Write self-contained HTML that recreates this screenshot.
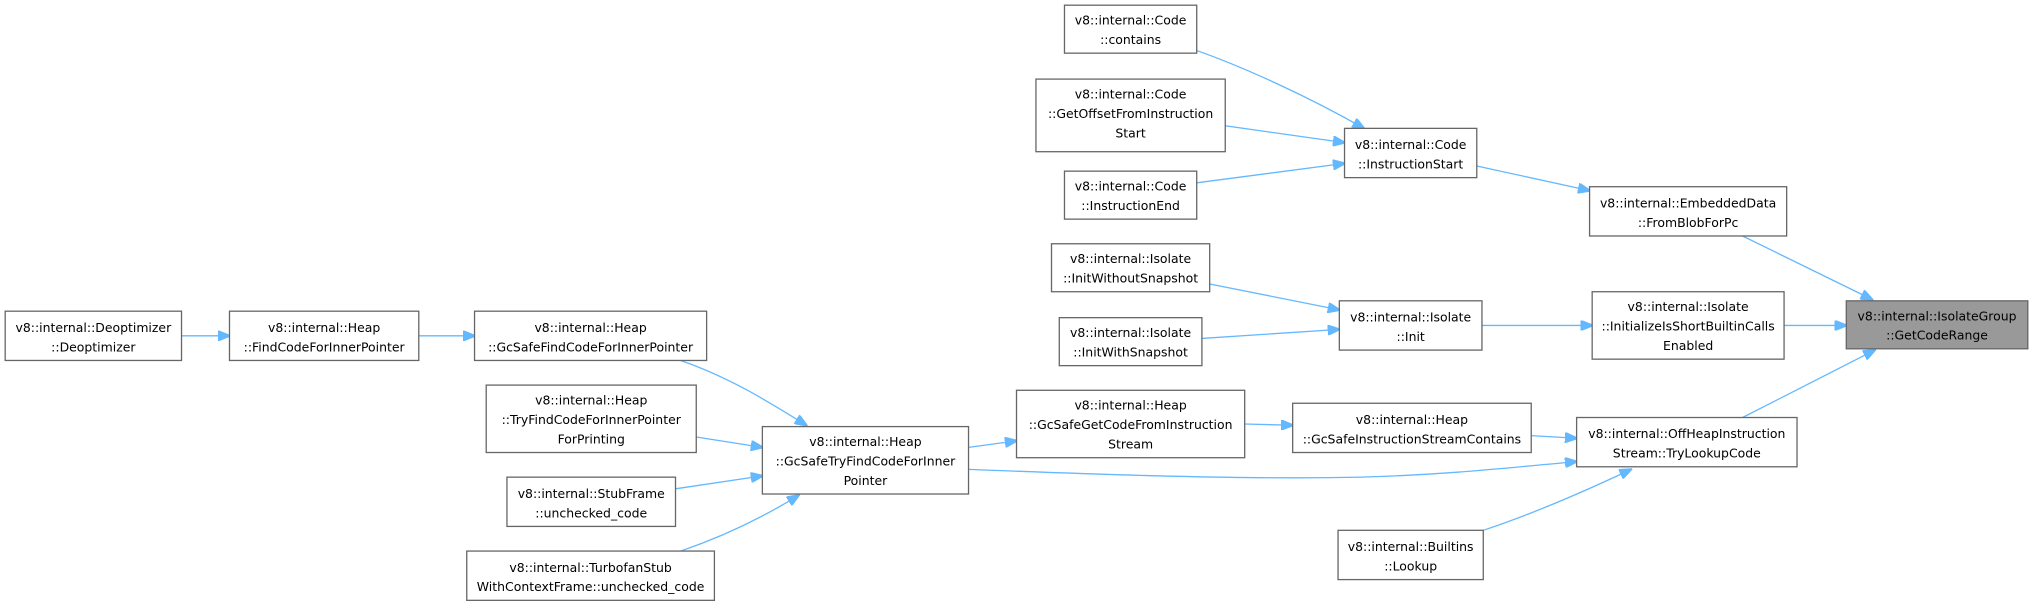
<!DOCTYPE html>
<html><head><meta charset="utf-8"><style>
html,body{margin:0;padding:0;background:#fff;}
svg{display:block;}
text{font-family:"DejaVu Sans","Liberation Sans",sans-serif;font-size:9.6px;fill:#000;text-anchor:middle;}
rect{fill:#fff;stroke:#666;stroke-width:1;}
path{fill:none;stroke:#63b8ff;stroke-width:1;}
</style></head><body>
<svg width="2033" height="605" viewBox="0 0 1568 466.6" preserveAspectRatio="none">
<defs><marker id="a" markerWidth="10" markerHeight="8" refX="9" refY="4" orient="auto" markerUnits="userSpaceOnUse"><path d="M0,0 L10,4 L0,8 z" style="fill:#63b8ff;stroke:#63b8ff"/></marker></defs>
<g marker-end="url(#a)">
<path d="M140,259 L177,259"/>
<path d="M323,259 L366,259"/>
<path d="M525,278 C560,290 590,308 622,328"/>
<path d="M537,337 L588,345"/>
<path d="M521,377 L588,367"/>
<path d="M525,425 C560,413 590,398 616,382"/>
<path d="M747,345 L784,340"/>
<path d="M960,327 L997,328"/>
<path d="M747,362 C850,366 960,370 1050,368 C1120,366 1170,360 1216,356"/>
<path d="M1181,336 L1216,338"/>
<path d="M1144,409 C1180,397 1220,380 1258,362"/>
<path d="M1344,322 L1446,270"/>
<path d="M1376,251 L1424,251"/>
<path d="M1344,182 L1444,231"/>
<path d="M1143,251 L1228,251"/>
<path d="M933,219 L1033,239"/>
<path d="M927,261 L1033,254"/>
<path d="M1139,128 L1226,147"/>
<path d="M923,39 C960,52 1010,75 1052,99"/>
<path d="M945,97 L1037,110"/>
<path d="M923,141 L1037,126"/>
</g>
<rect x="4" y="240" width="136" height="38"/><text x="72" y="256">v8::internal::Deoptimizer</text><text x="72" y="271">::Deoptimizer</text>
<rect x="177" y="240" width="146" height="38"/><text x="250" y="256">v8::internal::Heap</text><text x="250" y="271">::FindCodeForInnerPointer</text>
<rect x="366" y="240" width="179" height="38"/><text x="455.5" y="256">v8::internal::Heap</text><text x="455.5" y="271">::GcSafeFindCodeForInnerPointer</text>
<rect x="375" y="297" width="162" height="52"/><text x="456" y="312">v8::internal::Heap</text><text x="456" y="327">::TryFindCodeForInnerPointer</text><text x="456" y="342">ForPrinting</text>
<rect x="391" y="368" width="130" height="38"/><text x="456" y="384">v8::internal::StubFrame</text><text x="456" y="399">::unchecked_code</text>
<rect x="360" y="425" width="191" height="38"/><text x="455.5" y="441">v8::internal::TurbofanStub</text><text x="455.5" y="456">WithContextFrame::unchecked_code</text>
<rect x="588" y="329" width="159" height="52"/><text x="667.5" y="344">v8::internal::Heap</text><text x="667.5" y="359">::GcSafeTryFindCodeForInner</text><text x="667.5" y="374">Pointer</text>
<rect x="784" y="301" width="176" height="52"/><text x="872" y="316">v8::internal::Heap</text><text x="872" y="331">::GcSafeGetCodeFromInstruction</text><text x="872" y="346">Stream</text>
<rect x="997" y="311" width="184" height="38"/><text x="1089" y="327">v8::internal::Heap</text><text x="1089" y="342">::GcSafeInstructionStreamContains</text>
<rect x="821" y="4" width="102" height="37"/><text x="872" y="19">v8::internal::Code</text><text x="872" y="34">::contains</text>
<rect x="799" y="61" width="146" height="56"/><text x="872" y="76">v8::internal::Code</text><text x="872" y="91">::GetOffsetFromInstruction</text><text x="872" y="106">Start</text>
<rect x="821" y="132" width="102" height="37"/><text x="872" y="147">v8::internal::Code</text><text x="872" y="162">::InstructionEnd</text>
<rect x="1037" y="99" width="102" height="38"/><text x="1088" y="115">v8::internal::Code</text><text x="1088" y="130">::InstructionStart</text>
<rect x="811" y="188" width="122" height="37"/><text x="872" y="203">v8::internal::Isolate</text><text x="872" y="218">::InitWithoutSnapshot</text>
<rect x="817" y="245" width="110" height="37"/><text x="872" y="260">v8::internal::Isolate</text><text x="872" y="275">::InitWithSnapshot</text>
<rect x="1033" y="232" width="110" height="38"/><text x="1088" y="248">v8::internal::Isolate</text><text x="1088" y="263">::Init</text>
<rect x="1226" y="144" width="152" height="38"/><text x="1302" y="160">v8::internal::EmbeddedData</text><text x="1302" y="175">::FromBlobForPc</text>
<rect x="1228" y="225" width="148" height="52"/><text x="1302" y="240">v8::internal::Isolate</text><text x="1302" y="255">::InitializeIsShortBuiltinCalls</text><text x="1302" y="270">Enabled</text>
<rect x="1216" y="322" width="170" height="38"/><text x="1301" y="338">v8::internal::OffHeapInstruction</text><text x="1301" y="353">Stream::TryLookupCode</text>
<rect x="1032" y="409" width="112" height="38"/><text x="1088" y="425">v8::internal::Builtins</text><text x="1088" y="440">::Lookup</text>
<rect x="1424" y="232" width="140" height="37" style="fill:#999"/><text x="1494" y="247">v8::internal::IsolateGroup</text><text x="1494" y="262">::GetCodeRange</text>
</svg>
</body></html>
